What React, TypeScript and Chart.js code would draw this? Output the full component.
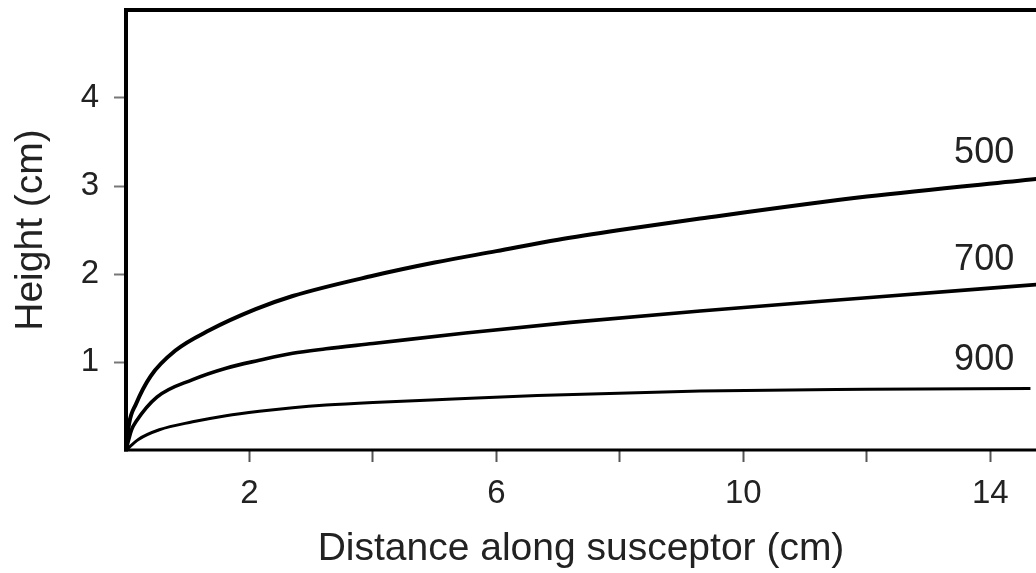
import React, { useEffect, useRef } from 'react';
import { Chart, registerables } from 'chart.js';

Chart.register(...registerables);

// ---- data ----
const xTickValues = [2, 4, 6, 8, 10, 12, 14];
const xTickLabels = ['2', '', '6', '', '10', '', '14'];
const yTickValues = [1, 2, 3, 4];
const yTickLabels = ['1', '2', '3', '4'];

const seriesNames = ['500', '700', '900'];

const x500 = [0, 0.05, 0.16, 0.4, 0.8, 1.35, 2.1, 2.7, 4.0, 5.0, 6.0, 7.0, 8.0, 9.3, 12.0, 14.75];
const y500 = [0, 0.3, 0.52, 0.84, 1.13, 1.36, 1.6, 1.75, 1.98, 2.13, 2.26, 2.39, 2.5, 2.63, 2.88, 3.08];

const x700 = [0, 0.09, 0.16, 0.5, 1.08, 1.62, 2.16, 2.7, 3.24, 4.0, 5.5, 7.2, 9.3, 12.0, 14.75];
const y700 = [0, 0.23, 0.32, 0.6, 0.8, 0.93, 1.02, 1.1, 1.15, 1.21, 1.33, 1.45, 1.58, 1.73, 1.88];

const x900 = [0, 0.2, 0.54, 1.08, 1.62, 2.16, 2.7, 3.24, 4.0, 5.3, 6.66, 9.3, 12.0, 14.65];
const y900 = [0, 0.12, 0.23, 0.32, 0.39, 0.44, 0.48, 0.51, 0.54, 0.58, 0.62, 0.67, 0.69, 0.7];

const FONT = "'Liberation Sans', Arial, Helvetica, sans-serif";
const TEXT = '#222';

const toPts = (xs: number[], ys: number[]) => xs.map((x, i) => ({ x, y: ys[i] }));

const framePlugin = {
  id: 'frame',
  afterDraw(chart: any) {
    const { ctx, chartArea } = chart;
    const { left, top, right, bottom } = chartArea;
    ctx.save();
    ctx.strokeStyle = '#000';
    ctx.lineCap = 'butt';
    // left
    ctx.lineWidth = 4;
    ctx.beginPath();
    ctx.moveTo(left, top - 2);
    ctx.lineTo(left, bottom + 1.5);
    ctx.stroke();
    // top
    ctx.lineWidth = 4;
    ctx.beginPath();
    ctx.moveTo(left - 2, top);
    ctx.lineTo(right, top);
    ctx.stroke();
    // bottom
    ctx.lineWidth = 3;
    ctx.beginPath();
    ctx.moveTo(left - 2, bottom);
    ctx.lineTo(right, bottom);
    ctx.stroke();

    // curve labels
    const xs = chart.scales.x;
    const ys = chart.scales.y;
    const labelPos = [
      [13.9, 3.375],
      [13.9, 2.16],
      [13.9, 1.02],
    ];
    ctx.fillStyle = TEXT;
    ctx.font = `36px ${FONT}`;
    ctx.textAlign = 'center';
    ctx.textBaseline = 'middle';
    seriesNames.forEach((name, i) => {
      ctx.fillText(name, xs.getPixelForValue(labelPos[i][0]), ys.getPixelForValue(labelPos[i][1]));
    });
    ctx.restore();
  },
};

export default function App() {
  const ref = useRef<HTMLCanvasElement | null>(null);

  useEffect(() => {
    if (!ref.current) return;
    const mk = (name: string, xs: number[], ys: number[], w: number) => ({
      label: name,
      data: toPts(xs, ys),
      borderColor: '#000',
      backgroundColor: '#000',
      borderWidth: w,
      pointRadius: 0,
      showLine: true,
      fill: false,
      cubicInterpolationMode: 'monotone' as const,
    });
    const chart = new Chart(ref.current, {
      type: 'scatter',
      data: {
        datasets: [
          mk(seriesNames[0], x500, y500, 4),
          mk(seriesNames[1], x700, y700, 3.6),
          mk(seriesNames[2], x900, y900, 3),
        ],
      },
      options: {
        animation: false,
        responsive: false,
        layout: { padding: { top: 10, right: 0, left: 0, bottom: 0 } },
        plugins: { legend: { display: false }, tooltip: { enabled: false } },
        scales: {
          x: {
            type: 'linear',
            min: 0,
            max: 14.74,
            border: { display: false },
            grid: {
              drawOnChartArea: false,
              drawTicks: true,
              tickLength: 12,
              tickColor: '#555',
              tickWidth: 2,
              color: '#555',
            },
            afterBuildTicks: (scale: any) => {
              scale.ticks = xTickValues.map((v) => ({ value: v }));
            },
            afterFit: (scale: any) => {
              scale.height = 123;
              scale.paddingLeft = 0;
              scale.paddingRight = 0;
            },
            ticks: {
              autoSkip: false,
              maxRotation: 0,
              padding: 12,
              color: TEXT,
              font: { family: FONT, size: 33 },
              callback: (v: any) => {
                const i = xTickValues.indexOf(Number(v));
                return i >= 0 ? xTickLabels[i] : '';
              },
            },
            title: {
              display: true,
              text: 'Distance along susceptor (cm)',
              color: TEXT,
              font: { family: FONT, size: 39 },
              padding: { top: 0, bottom: 0 },
            },
          },
          y: {
            type: 'linear',
            min: 0,
            max: 5,
            border: { display: false },
            grid: {
              drawOnChartArea: false,
              drawTicks: true,
              tickLength: 12,
              tickColor: '#777',
              tickWidth: 2,
              color: '#777',
            },
            afterBuildTicks: (scale: any) => {
              scale.ticks = yTickValues.map((v) => ({ value: v }));
            },
            afterFit: (scale: any) => {
              scale.width = 126;
              scale.paddingTop = 0;
              scale.paddingBottom = 0;
            },
            ticks: {
              autoSkip: false,
              padding: 15,
              color: TEXT,
              font: { family: FONT, size: 33 },
              callback: (v: any) => {
                const i = yTickValues.indexOf(Number(v));
                return i >= 0 ? yTickLabels[i] : '';
              },
            },
            title: {
              display: true,
              text: 'Height (cm)',
              color: TEXT,
              font: { family: FONT, size: 39 },
              padding: { top: 8, bottom: 0 },
            },
          },
        },
      },
      plugins: [framePlugin],
    });
    return () => chart.destroy();
  }, []);

  return (
    <div style={{ position: 'fixed', left: 0, top: 0, width: 1036, height: 573, background: '#fff' }}>
      <canvas ref={ref} width={1036} height={573} style={{ width: 1036, height: 573, display: 'block' }} />
    </div>
  );
}
